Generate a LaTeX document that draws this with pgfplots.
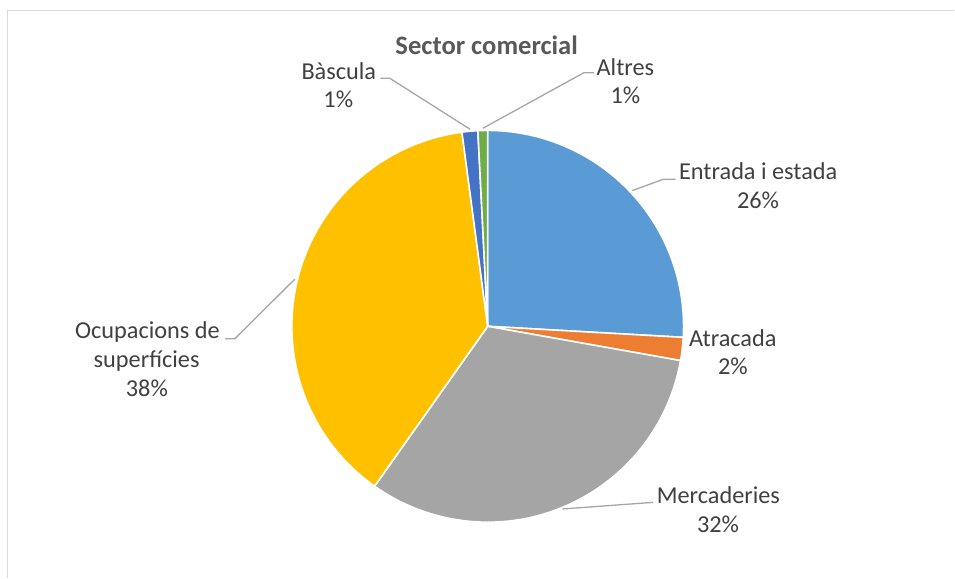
\documentclass[border=0pt]{standalone}
\usepackage{pgfplots}
\pgfplotsset{compat=1.18}
\usepackage{pgfplotstable}
\usepackage{fontspec}
\setmainfont{Carlito}
\definecolor{cEnt}{HTML}{5B9BD5}
\definecolor{cAtr}{HTML}{ED7D31}
\definecolor{cMer}{HTML}{A5A5A5}
\definecolor{cOcu}{HTML}{FFC000}
\definecolor{cBas}{HTML}{4472C4}
\definecolor{cAlt}{HTML}{70AD47}
\definecolor{txtgray}{HTML}{404040}
\definecolor{titlegray}{HTML}{595959}
\definecolor{leadgray}{HTML}{A6A6A6}
\definecolor{framegray}{HTML}{D9D9D9}
\begin{document}
\pgfplotstableread[col sep=comma]{
name,value,col
Entrada i estada,25.9,cEnt
Atracada,1.9,cAtr
Mercaderies,32.0,cMer
Ocupacions de superficies,38.1,cOcu
Bascula,1.3,cBas
Altres,0.8,cAlt
}\piedata
\def\piecmds{}%
\def\curang{90}%
\pgfplotsforeachungrouped \i in {0,...,5}{%
  \pgfplotstablegetelem{\i}{value}\of\piedata
  \let\sliceval\pgfplotsretval
  \pgfplotstablegetelem{\i}{col}\of\piedata
  \let\slicecol\pgfplotsretval
  \pgfmathsetmacro{\endang}{\curang-3.6*\sliceval}%
  \xdef\piecmds{\unexpanded\expandafter{\piecmds}\noexpand\fill[\slicecol,draw=white,line width=1.6pt,line join=round] (axis cs:488,251.5) -- ++(\curang:196pt) arc[start angle=\curang,end angle=\endang,radius=196pt] -- cycle;}%
  \global\let\curang\endang
}%
\begin{tikzpicture}
\begin{axis}[width=955pt,height=578pt,scale only axis,
  xmin=0,xmax=955,ymin=0,ymax=578,hide axis,clip=false]
\path (axis cs:0,0) rectangle (axis cs:955,578);
\addplot[framegray,line width=1.2pt,forget plot] coordinates {(7.5,0) (7.5,567.5) (955,567.5)};
\piecmds
% leader lines
\addplot[leadgray,line width=1.3pt] coordinates {(380.7,499.7) (390,499.7) (470.3,448.7)};
\addplot[leadgray,line width=1.3pt] coordinates {(594.3,505.3) (584.3,505.3) (483.3,449.7)};
\addplot[leadgray,line width=1.3pt] coordinates {(676,398.7) (664,398.7) (632.7,387.3)};
\addplot[leadgray,line width=1.3pt] coordinates {(653.3,75.3) (562.7,68.7)};
\addplot[leadgray,line width=1.3pt] coordinates {(225,239) (235,239) (295,298.7)};
% title
\node[anchor=base,text=titlegray,font=\fontsize{26.6}{31}\selectfont\bfseries] at (axis cs:487,523) {Sector comercial};
% labels
\tikzset{lab/.style={anchor=base,text=txtgray,font=\fontsize{24.3}{29}\selectfont,inner sep=0pt}}
\node[lab] at (axis cs:339,498.5) {Bàscula};
\node[lab] at (axis cs:338.5,470.5) {1\%};
\node[lab] at (axis cs:625.8,502.3) {Altres};
\node[lab] at (axis cs:625.8,474.7) {1\%};
\node[lab] at (axis cs:758.7,398) {Entrada i estada};
\node[lab] at (axis cs:758.5,369.7) {26\%};
\node[lab] at (axis cs:733.3,231.3) {Atracada};
\node[lab] at (axis cs:733.3,203) {2\%};
\node[lab] at (axis cs:718.8,74) {Mercaderies};
\node[lab] at (axis cs:718.5,45.3) {32\%};
\node[lab] at (axis cs:147.5,239) {Ocupacions de};
\node[lab] at (axis cs:146.7,210.3) {superfícies};
\node[lab] at (axis cs:147,181.3) {38\%};
\end{axis}
\end{tikzpicture}
\end{document}
